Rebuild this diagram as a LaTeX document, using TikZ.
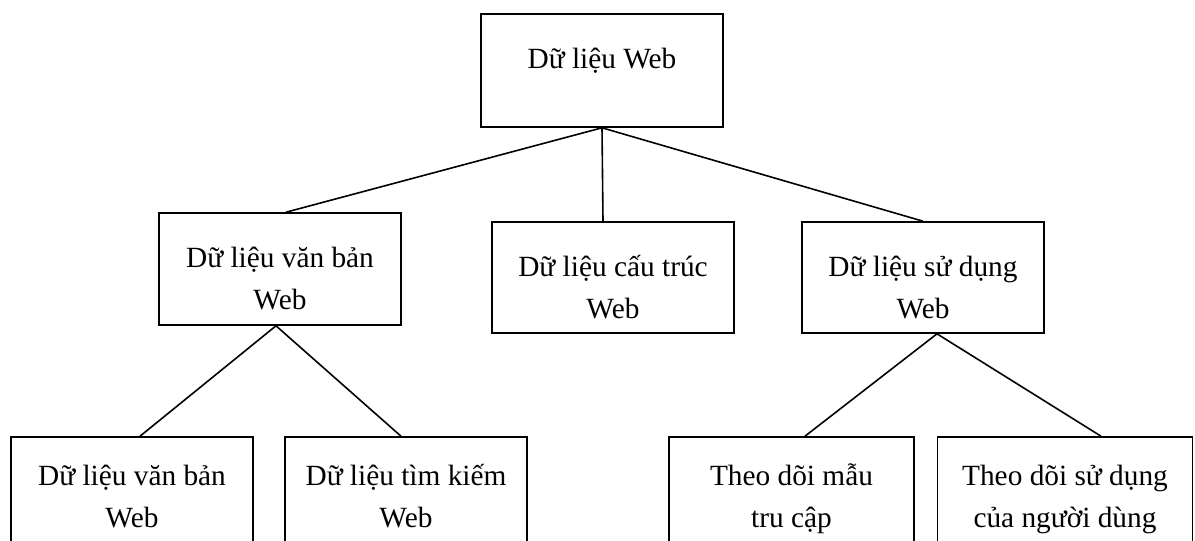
\documentclass[tikz,border=0pt]{standalone}
\usepackage{fontspec}
\setmainfont{Liberation Serif}
\begin{document}
\begin{tikzpicture}[x=0.75pt,y=-0.75pt,
  box/.style={draw,line width=1.2pt,inner xsep=0pt,inner ysep=0pt,anchor=base,
    align=center,font=\fontsize{22}{31.5}\selectfont},
  link/.style={line width=1.2pt}]
\useasboundingbox (0,0) rectangle (1195,540);
\clip (0,0) rectangle (1195,540);

% top level (anchored on the baseline of the last text line)
\node[box,minimum width=181.5pt,text height=40.5pt,text depth=44.25pt] (root) at (602,68) {Dữ liệu Web};

% second level
\node[box,minimum width=181.5pt,text height=72pt,text depth=12pt] (ml) at (280,309) {Dữ liệu văn bản\\Web};
\node[box,minimum width=181.5pt,text height=72pt,text depth=11.25pt] (mid) at (613,318) {Dữ liệu cấu trúc\\Web};
\node[box,minimum width=181.5pt,text height=72pt,text depth=11.25pt] (mr) at (923,318) {Dữ liệu sử dụng\\Web};

% third level
\node[box,minimum width=181.5pt,text height=67.5pt,text depth=45pt] (b1) at (132,527) {Dữ liệu văn bản\\Web};
\node[box,minimum width=181.5pt,text height=67.5pt,text depth=45pt] (b2) at (406,527) {Dữ liệu tìm kiếm\\Web};
\node[box,minimum width=183.75pt,text height=67.5pt,text depth=45pt] (b3) at (791.5,527) {Theo dõi mẫu\\tru cập};
\node[box,minimum width=191.25pt,text height=67.5pt,text depth=45pt] (b4) at (1065,527) {Theo dõi sử dụng\\của người dùng};

% connectors
\draw[link] (root.south) -- ([xshift=4.5pt]ml.north);
\draw[link] (root.south) -- ([xshift=-7.5pt]mid.north);
\draw[link] (root.south) -- (mr.north);
\draw[link] ([xshift=-3pt]ml.south) -- ([xshift=6pt]b1.north);
\draw[link] ([xshift=-3pt]ml.south) -- ([xshift=-3.75pt]b2.north);
\draw[link] ([xshift=10.5pt]mr.south) -- ([xshift=10.1pt]b3.north);
\draw[link] ([xshift=10.5pt]mr.south) -- ([xshift=27pt]b4.north);
\end{tikzpicture}
\end{document}
